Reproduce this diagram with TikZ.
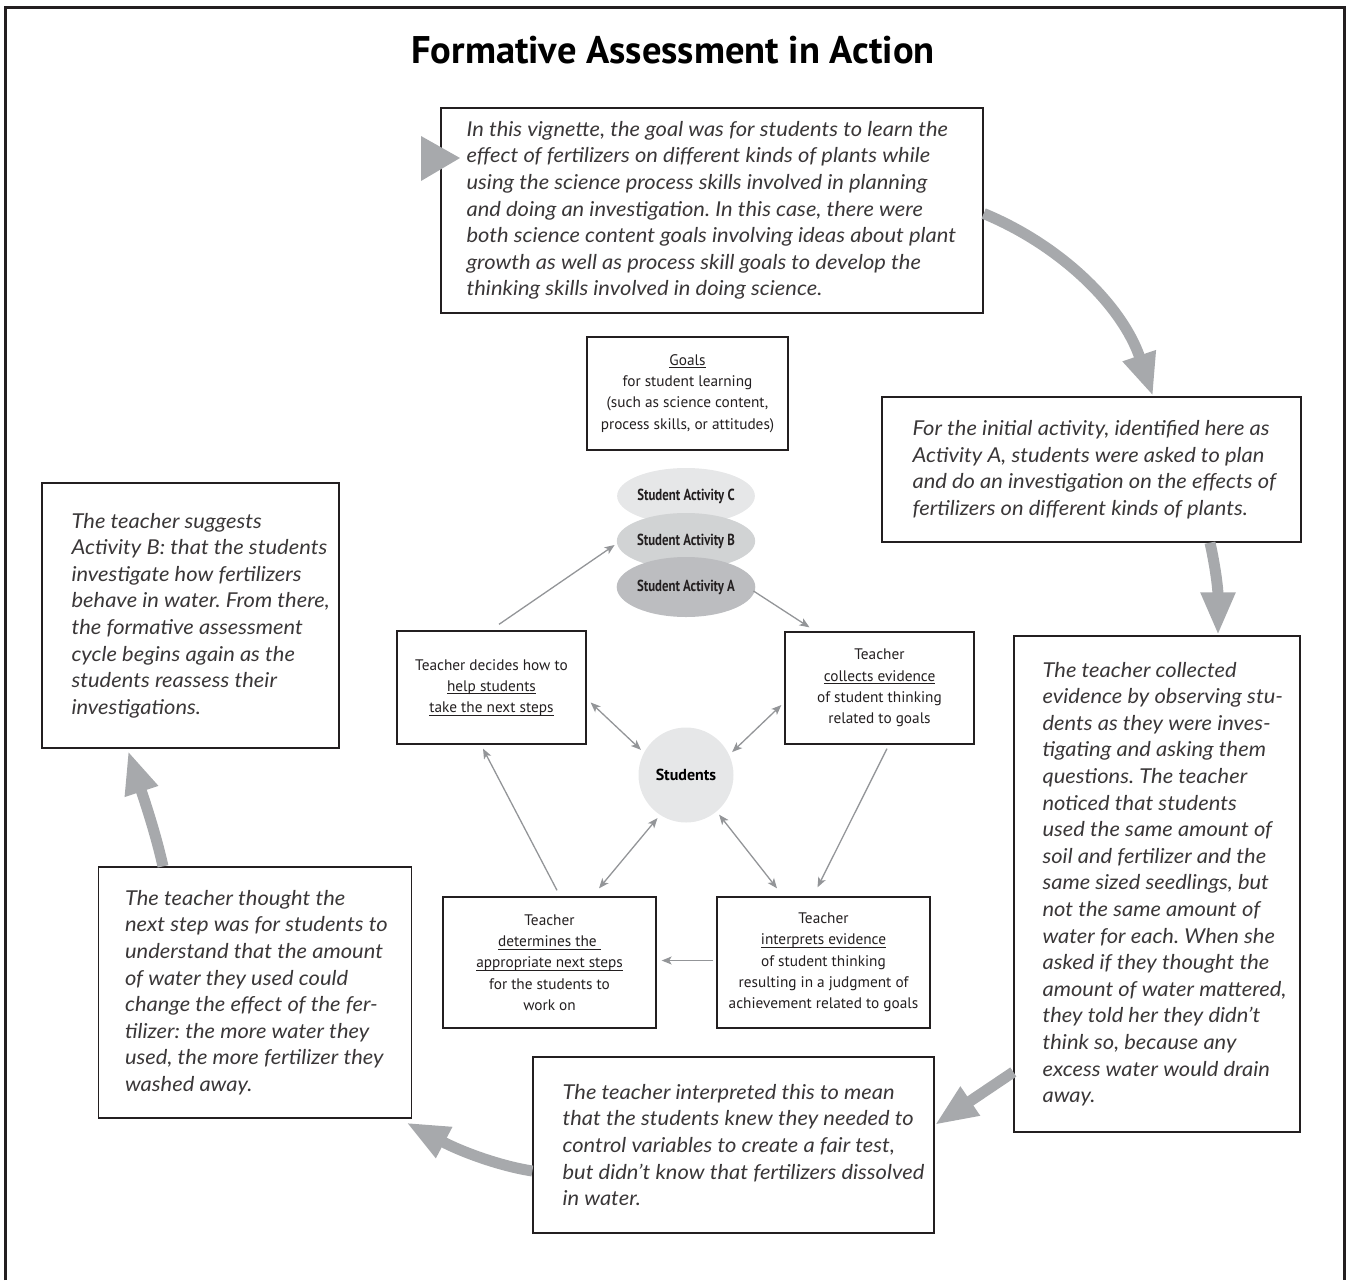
\documentclass[tikz,border=0pt]{standalone}
\usepackage{fontspec}
\setmainfont{PT Sans}
\newfontfamily\notefont{Lato}[FakeStretch=1.07]
\newfontfamily\condfont{PT Sans}[FakeStretch=0.8]
\usetikzlibrary{arrows.meta,calc,shapes.geometric}
\frenchspacing

\definecolor{ink}{HTML}{231F20}
\definecolor{noteink}{HTML}{3A3738}
\definecolor{flowgray}{HTML}{A7A9AC}
\definecolor{linkgray}{HTML}{939598}
\definecolor{actAfill}{HTML}{BCBDC0}
\definecolor{actBfill}{HTML}{D1D3D4}
\definecolor{actCfill}{HTML}{E6E7E8}
\definecolor{studfill}{HTML}{E6E7E8}

% underline that sits just below the baseline
\newcommand\undl[1]{\setbox0=\hbox{#1}\rlap{\rule[-3pt]{\wd0}{0.9pt}}\box0}

\tikzset{
  box/.style={draw=ink, line width=1.3pt, inner sep=0pt},
  notetext/.style={inner sep=0pt, anchor=west, align=left, text=noteink,
    font=\notefont\itshape\fontsize{20.5}{26.6}\selectfont},
  cycletext/.style={box, align=center, text=ink,
    font=\fontsize{15.3}{21.3}\selectfont},
  activity/.style={ellipse, inner sep=0pt, minimum width=127pt, text=ink,
    font=\condfont\bfseries\fontsize{16}{18}\selectfont},
  thinlink/.style={draw=linkgray, line width=1.3pt,
    -{Stealth[length=10pt,width=8pt,inset=2.5pt]}},
  twoway/.style={thinlink,
    {Stealth[length=10pt,width=8pt,inset=2.5pt]}-{Stealth[length=10pt,width=8pt,inset=2.5pt]}},
  bigflow/.style={draw=flowgray, line width=11pt, line cap=butt,
    -{Triangle[length=43pt,width=32pt]}},
}

\begin{document}
\begin{tikzpicture}[x=1pt,y=-1pt]
\useasboundingbox (0,0) rectangle (1349,1280);

% outer frame, open at the bottom
\draw[ink, line width=3pt] (5,1280) -- (5,7) -- (1344,7) -- (1344,1280);

% title
\node[font=\bfseries\fontsize{38.5}{44}\selectfont, text=black] (title) at (673,50)
  {Formative Assessment in Action};

% ---------------- narrative boxes ----------------
\node[box, minimum width=542pt, minimum height=205pt] (goal) at (712,210.5) {};
\node[notetext] (goalT) at ([xshift=26pt]goal.west)
  {In this vignette, the goal was for students to learn the\\
   effect of fertilizers on different kinds of plants while\\
   using the science process skills involved in planning\\
   and doing an investigation. In this case, there were\\
   both science content goals involving ideas about plant\\
   growth as well as process skill goals to develop the\\
   thinking skills involved in doing science.};
\fill[flowgray] (421,136) -- (421,181) -- (460,158) -- cycle;

\node[box, minimum width=419pt, minimum height=145pt] (initial) at (1091.5,469.5) {};
\node[notetext] (initialT) at ([xshift=31pt]initial.west)
  {For the initial activity, identified here as\\
   Activity A, students were asked to plan\\
   and do an investigation on the effects of\\
   fertilizers on different kinds of plants.};

\node[box, minimum width=286pt, minimum height=496pt] (collected) at (1157,884) {};
\node[notetext] (collectedT) at ([xshift=29pt]collected.west)
  {The teacher collected\\
   evidence by observing stu-\\
   dents as they were inves-\\
   tigating and asking them\\
   questions. The teacher\\
   noticed that students\\
   used the same amount of\\
   soil and fertilizer and the\\
   same sized seedlings, but\\
   not the same amount of\\
   water for each. When she\\
   asked if they thought the\\
   amount of water mattered,\\
   they told her they didn’t\\
   think so, because any\\
   excess water would drain\\
   away.};

\node[box, minimum width=401pt, minimum height=176pt] (interpreted) at (733.5,1145) {};
\node[notetext] (interpretedT) at ([xshift=30pt]interpreted.west)
  {The teacher interpreted this to mean\\
   that the students knew they needed to\\
   control variables to create a fair test,\\
   but didn’t know that fertilizers dissolved\\
   in water.};

\node[box, minimum width=313pt, minimum height=251pt] (thought) at (255,992.5) {};
\node[notetext] (thoughtT) at ([xshift=27pt]thought.west)
  {The teacher thought the\\
   next step was for students to\\
   understand that the amount\\
   of water they used could\\
   change the effect of the fer-\\
   tilizer: the more water they\\
   used, the more fertilizer they\\
   washed away.};

\node[box, minimum width=297pt, minimum height=265pt] (suggests) at (190.5,615.5) {};
\node[notetext] (suggestsT) at ([xshift=30pt]suggests.west)
  {The teacher suggests\\
   Activity B: that the students\\
   investigate how fertilizers\\
   behave in water. From there,\\
   the formative assessment\\
   cycle begins again as the\\
   students reassess their\\
   investigations.};

% ---------------- central cycle ----------------
\node[cycletext, minimum width=201pt, minimum height=113pt] (goals) at (687.5,393.5)
  {\undl{Goals}\\for student learning\\(such as science content,\\process skills, or attitudes)};

\node[activity, fill=actCfill, minimum height=56pt] (actC) at (686,496) {Student Activity C};
\node[activity, fill=actBfill, minimum height=56pt] (actB) at (686,541) {Student Activity B};
\node[activity, fill=actAfill, minimum height=60pt] (actA) at (686,587) {Student Activity A};

\node[circle, fill=studfill, minimum size=95pt, inner sep=0pt, text=black,
      font=\bfseries\fontsize{16}{18}\selectfont] (students) at (686,775) {Students};

\node[cycletext, minimum width=189pt, minimum height=113pt] (decides) at (491.5,687.5)
  {Teacher decides how to\\\undl{help students}\\\undl{take the next steps}};
\node[cycletext, minimum width=189pt, minimum height=112pt] (collects) at (879.5,688)
  {Teacher\\\undl{collects evidence}\\of student thinking\\related to goals};
\node[cycletext, minimum width=213pt, minimum height=131pt] (determines) at (549.5,962.5)
  {Teacher\\\undl{determines the\ }\\\undl{appropriate next steps}\\for the students to\\work on};
\node[cycletext, minimum width=213pt, minimum height=131pt] (interprets) at (823.5,962.5)
  {Teacher\\\undl{interprets evidence}\\of student thinking\\resulting in a judgment of\\achievement related to goals};

% one-way links around the cycle
\draw[thinlink] ($(decides.north)+(7.5,-6)$) -- ($(actB.west)+(-2,4)$);
\draw[thinlink] ($(actA.east)+(-2,4)$) -- ($(collects.north)+(-70,-4)$);
\draw[thinlink] ($(collects.south)+(7.5,4)$) -- ($(interprets.north)+(-6,-9)$);
\draw[thinlink] ($(interprets.west)+(-3,-2)$) -- ($(determines.east)+(5,-2)$);
\draw[thinlink] ($(determines.north)+(7.5,-6)$) -- ($(decides.south)+(-8.5,4)$);

% two-way links with the students
\draw[twoway, shorten >=4pt] ($(decides.east)+(4,15)$) -- (students.152);
\draw[twoway, shorten >=4pt] ($(collects.west)+(-3,17)$) -- (students.25);
\draw[twoway, shorten >=4pt] ($(determines.north)+(49.5,-8)$) -- (students.237);
\draw[twoway, shorten >=4pt] ($(interprets.north)+(-46.5,-8)$) -- (students.310);

% ---------------- broad flow arrows between the narrative boxes ----------------
\draw[bigflow] ($(goal.east)+(0,3)$) .. controls (1060,245) and (1122,305) .. ($(initial.north)+(61.5,0)$);
\draw[bigflow] ($(initial.south)+(118.5,0)$) .. controls (1216,570) and (1218,590) .. ($(collected.north)+(61,0)$);
\draw[bigflow] ($(collected.west)+(0,188)$) -- ($(interpreted.east)+(0,-20)$);
\draw[bigflow] ($(interpreted.west)+(0,26)$) .. controls (500,1166) and (462,1152) .. ($(thought.east)+(-6,130)$);
\draw[bigflow] ($(thought.north)+(-92,0)$) .. controls (156,835) and (146,805) .. ($(suggests.south)+(-62.5,2)$);
\end{tikzpicture}
\end{document}
